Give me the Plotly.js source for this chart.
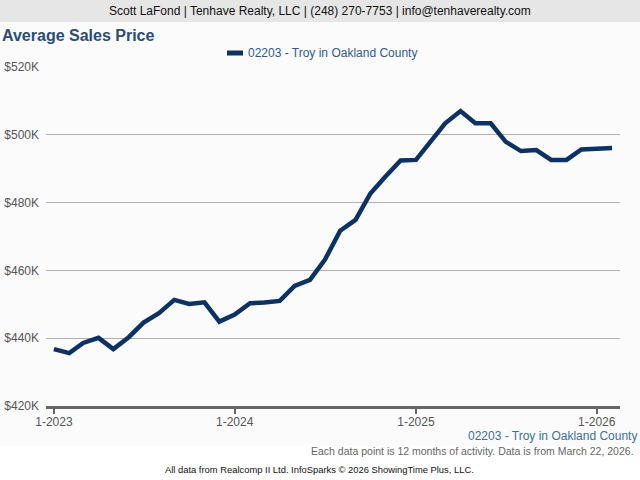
<!DOCTYPE html>
<html>
<head>
<meta charset="utf-8">
<script src="https://cdn.plot.ly/plotly-3.0.1.min.js"></script>
<style>html,body{margin:0;padding:0;background:#fff;}#chart{width:640px;height:480px;}</style>
</head>
<body>
<div id="chart"></div>
<script>
const months = ["2023-01-01","2023-02-01","2023-03-01","2023-04-01","2023-05-01","2023-06-01","2023-07-01","2023-08-01","2023-09-01","2023-10-01","2023-11-01","2023-12-01",
"2024-01-01","2024-02-01","2024-03-01","2024-04-01","2024-05-01","2024-06-01","2024-07-01","2024-08-01","2024-09-01","2024-10-01","2024-11-01","2024-12-01",
"2025-01-01","2025-02-01","2025-03-01","2025-04-01","2025-05-01","2025-06-01","2025-07-01","2025-08-01","2025-09-01","2025-10-01","2025-11-01","2025-12-01",
"2026-01-01","2026-02-01"];
const avgPriceK = [436.8,435.6,438.6,440.1,436.8,440.3,444.6,447.4,451.3,450.1,450.6,444.9,
447.0,450.3,450.5,451.0,455.4,457.2,463.1,471.7,474.9,482.7,487.8,492.4,
492.6,498.2,503.4,507.0,503.4,503.4,498.0,495.2,495.5,492.6,492.6,495.7,
495.9,496.1];
const seriesName = "02203 - Troy in Oakland County";
const xTickVals = ["2023-01-01","2024-01-01","2025-01-01","2026-01-01"];
const xTickText = ["1-2023","1-2024","1-2025","1-2026"];
const yTickVals = [420,440,460,480,500,520];
const yTickText = ["$420K","$440K","$460K","$480K","$500K","$520K"];

const W = 640, H = 480, mL = 46, mR = 20, mT = 67, mB = 74;
const plotH = H - mT - mB, plotW = W - mL - mR;
const py = p => 1 - (p - mT) / plotH;   // pixel y -> paper y
const px = p => (p - mL) / plotW;       // pixel x -> paper x
const FONT = "Liberation Sans, Arial, sans-serif";

const trace = {
  x: months, y: avgPriceK, type: "scatter", mode: "lines", name: seriesName,
  line: {color: "#0c3264", width: 4.5}, showlegend: false
};

const layout = {
  width: W, height: H,
  margin: {l: mL, r: mR, t: mT, b: mB, pad: 0, autoexpand: false},
  paper_bgcolor: "#ffffff", plot_bgcolor: "rgba(0,0,0,0)",
  font: {family: FONT, size: 12, color: "#555"},
  showlegend: false,
  xaxis: {type: "date", range: ["2022-12-16", "2026-02-17"], tickmode: "array", tickvals: xTickVals, ticktext: xTickText,
    showgrid: false, showline: true, linecolor: "#666", linewidth: 3, ticks: "outside", ticklen: 5, tickwidth: 2, tickcolor: "#666",
    ticklabelstandoff: -2,
    tickfont: {family: FONT, size: 12, color: "#555"}, zeroline: false, fixedrange: true, automargin: false},
  yaxis: {range: [420, 520], tickmode: "array", tickvals: yTickVals, ticktext: yTickText,
    showgrid: true, gridcolor: "#b0b0b0", gridwidth: 1, showline: false, zeroline: false, ticks: "", ticklabelstandoff: 6,
    tickfont: {family: FONT, size: 12, color: "#555"}, fixedrange: true, automargin: false},
  shapes: [
    {type: "rect", xref: "paper", yref: "paper", x0: px(0), x1: px(640), y0: py(22), y1: py(446), fillcolor: "#fbfbfb", line: {width: 0}, layer: "below"},
    {type: "rect", xref: "paper", yref: "paper", x0: px(0), x1: px(640), y0: py(0), y1: py(22), fillcolor: "#e6e6e6", line: {width: 0}, layer: "below"},
    {type: "line", xref: "paper", yref: "paper", x0: px(227), x1: px(243), y0: py(53), y1: py(53), line: {color: "#0c3264", width: 5}}
  ],
  annotations: [
    {text: "Scott LaFond | Tenhave Realty, LLC | (248) 270-7753 | info@tenhaverealty.com", xref: "paper", yref: "paper",
      x: px(320), y: py(11), xanchor: "center", yanchor: "middle", showarrow: false, font: {family: FONT, size: 12, color: "#111"}},
    {text: "<b>Average Sales Price</b>", xref: "paper", yref: "paper", x: px(0), y: py(35), xanchor: "left", yanchor: "middle",
      showarrow: false, font: {family: FONT, size: 16, color: "#2a4c78"}},
    {text: seriesName, xref: "paper", yref: "paper", x: px(246), y: py(53), xanchor: "left", yanchor: "middle",
      showarrow: false, font: {family: FONT, size: 12, color: "#2f5a8a"}},
    {text: seriesName, xref: "paper", yref: "paper", x: px(639), y: py(436), xanchor: "right", yanchor: "middle",
      showarrow: false, font: {family: FONT, size: 12, color: "#3c6ea6"}},
    {text: "Each data point is 12 months of activity. Data is from March 22, 2026.", xref: "paper", yref: "paper",
      x: px(636), y: py(451), xanchor: "right", yanchor: "middle", showarrow: false, font: {family: FONT, size: 10.5, color: "#666"}},
    {text: "All data from Realcomp II Ltd. InfoSparks © 2026 ShowingTime Plus, LLC.", xref: "paper", yref: "paper",
      x: px(319), y: py(469), xanchor: "center", yanchor: "middle", showarrow: false, font: {family: FONT, size: 9.4, color: "#111"}}
  ]
};

Plotly.newPlot("chart", [trace], layout, {displayModeBar: false, staticPlot: true});
</script>
</body>
</html>
